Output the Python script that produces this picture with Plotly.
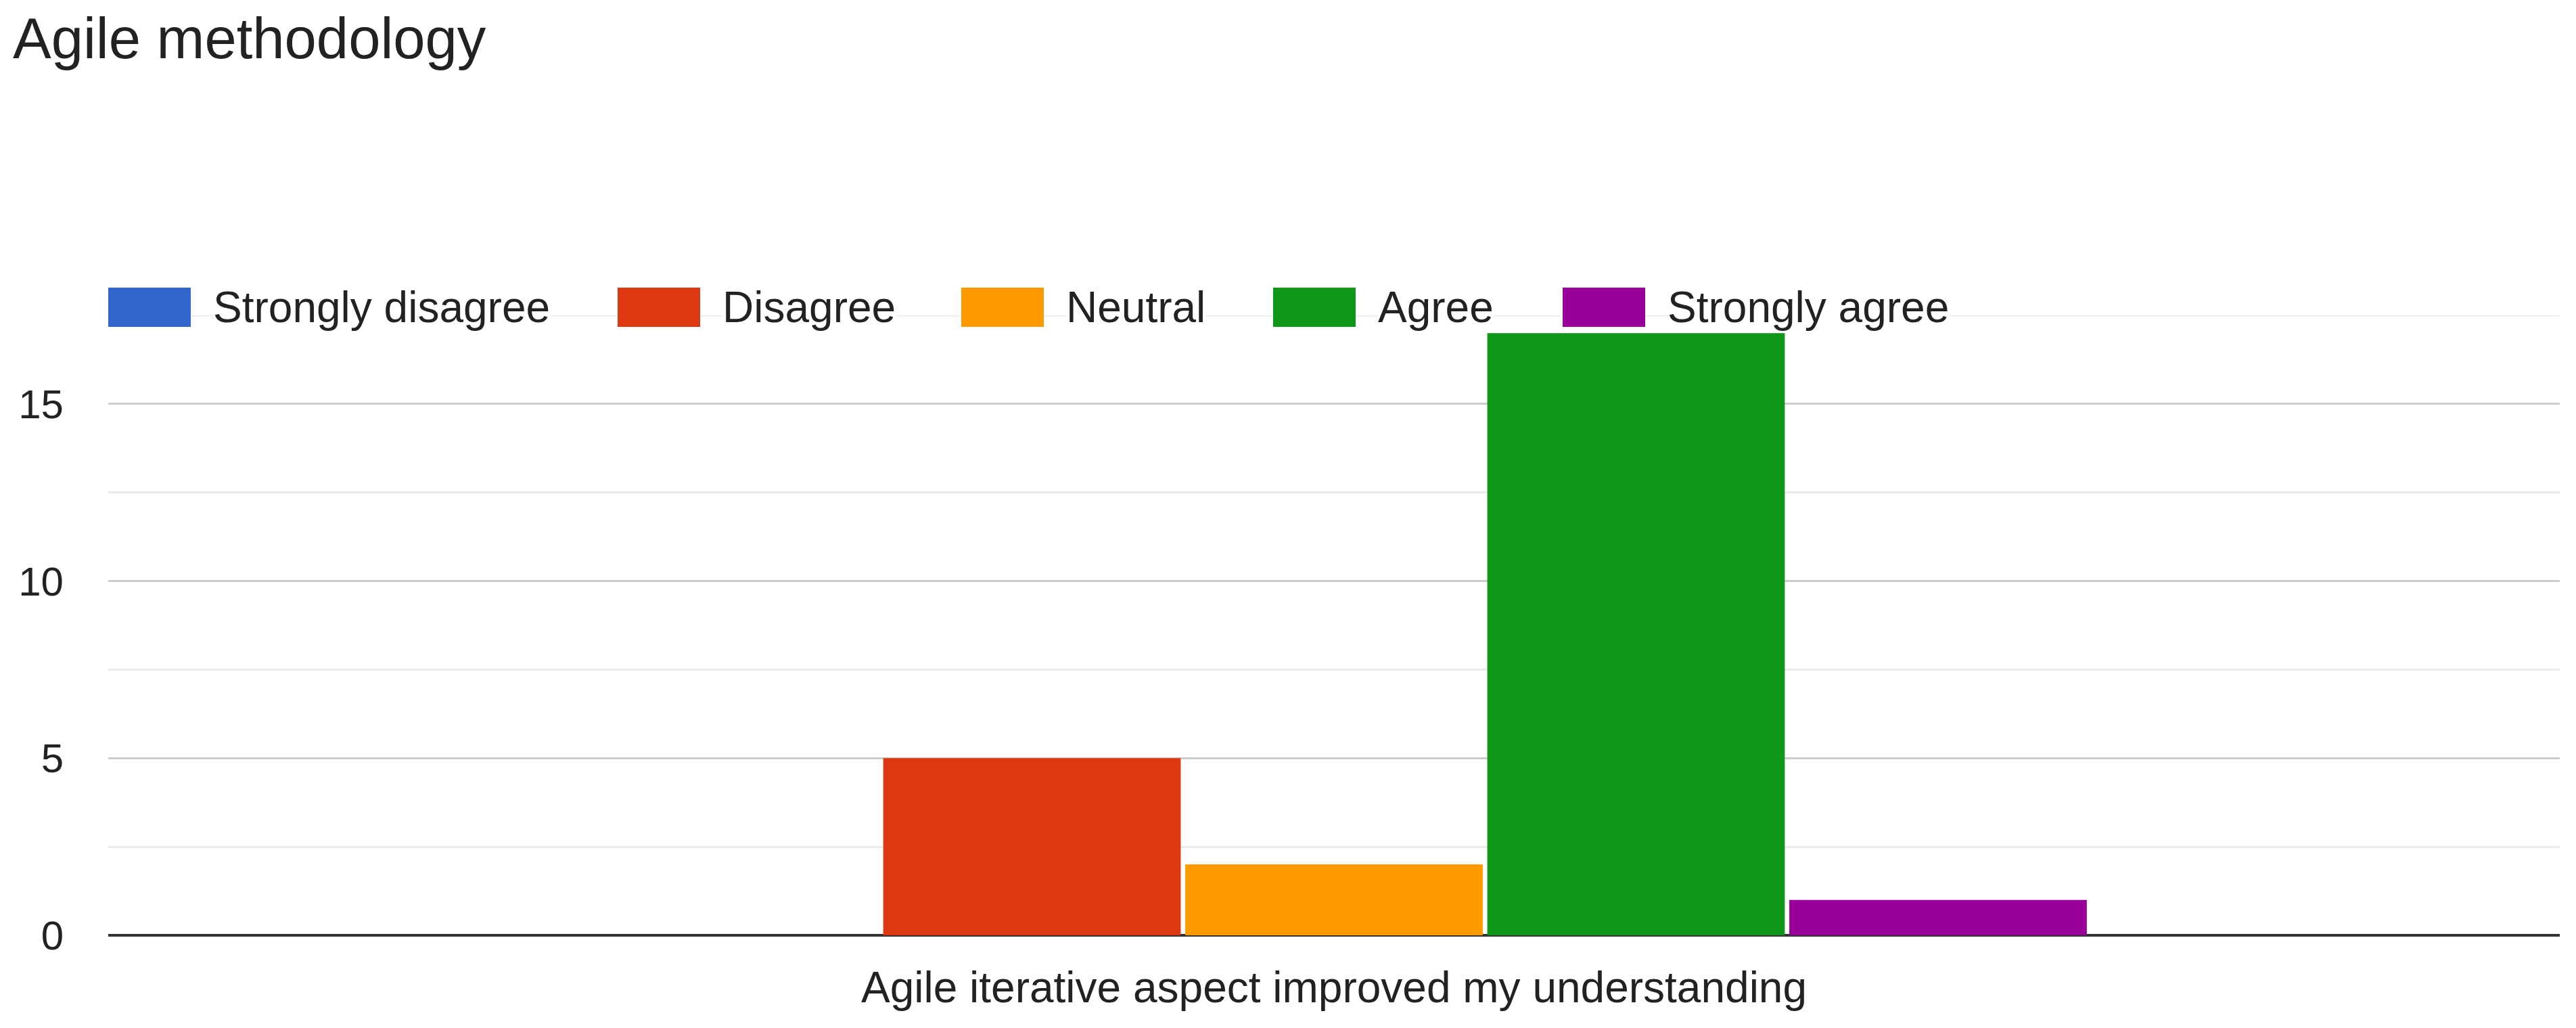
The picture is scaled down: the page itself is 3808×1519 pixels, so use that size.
import plotly.graph_objects as go

# ---- data ----
title_text = "Agile methodology"
category = ["Agile iterative aspect improved my understanding"]
series_names = ["Strongly disagree", "Disagree", "Neutral", "Agree", "Strongly agree"]
series_values = [0, 5, 2, 17, 1]
y_tick_values = [0, 5, 10, 15]
y_tick_labels = ["0", "5", "10", "15"]
y_max = 17.5

# ---- styles ----
colors = ["#3366cc", "#dc3912", "#ff9900", "#109618", "#990099"]
FONT = "Liberation Sans, Arial, sans-serif"
TXT = "#222222"
BODY = 8  # default browser body margin
W, H = 3808 - 2 * BODY, 1519 - 2 * BODY
ML = 160 - BODY
MT = 466 - BODY
MR = W - (3784 - BODY)
MB = H - (1382 - BODY)
PW = W - ML - MR
PH = H - MT - MB

fig = go.Figure()
for name, val, col in zip(series_names, series_values, colors):
    fig.add_trace(go.Bar(x=category, y=[val], name=name, marker=dict(color=col, line=dict(width=0)),
                         showlegend=False))

# custom legend (large swatches), positions in screen px
legend_swatch_left_px = [160, 913, 1421, 1882, 2310]
sw_w, sw_h, gap = 122, 58, 32
legend_cy = 454
shapes = [dict(type="line", xref="paper", yref="y", x0=0, x1=1, y0=y_max, y1=y_max,
               line=dict(color="#ebebeb", width=3), layer="below")]
annotations = []
def px_x(p):
    return (p - BODY - ML) / PW
def px_y(p):
    return (H - MB - (p - BODY)) / PH
for name, col, left in zip(series_names, colors, legend_swatch_left_px):
    shapes.append(dict(type="rect", xref="paper", yref="paper",
                       x0=px_x(left), x1=px_x(left + sw_w),
                       y0=px_y(legend_cy + sw_h / 2), y1=px_y(legend_cy - sw_h / 2),
                       fillcolor=col, line=dict(width=0), layer="above"))
    annotations.append(dict(text=name, xref="paper", yref="paper",
                            x=px_x(left + sw_w + gap), y=px_y(legend_cy),
                            xanchor="left", yanchor="middle", showarrow=False,
                            bgcolor="white", borderpad=0,
                            font=dict(family=FONT, size=64, color=TXT)))

fig.update_layout(
    width=W, height=H,
    margin=dict(l=ML, r=MR, t=MT, b=MB),
    paper_bgcolor="white", plot_bgcolor="white",
    title=dict(text=title_text, x=(19 - BODY) / W, xanchor="left", xref="container",
               y=1 - 18 / H, yanchor="top", yref="container",
               font=dict(family=FONT, size=85, color=TXT)),
    barmode="group", bargap=0.384, bargroupgap=0.015,
    shapes=shapes, annotations=annotations,
    font=dict(family=FONT, color=TXT),
)
fig.update_xaxes(showgrid=False, showline=False, zeroline=False, ticks="",
                 tickfont=dict(family=FONT, size=64, color=TXT), ticklabelstandoff=34)
fig.update_yaxes(range=[0, y_max], tickvals=y_tick_values, ticktext=y_tick_labels,
                 showgrid=True, gridcolor="#cccccc", gridwidth=3,
                 zeroline=True, zerolinecolor="#333333", zerolinewidth=4,
                 showline=False, ticks="",
                 minor=dict(dtick=2.5, tick0=0, showgrid=True, gridcolor="#ebebeb", gridwidth=3, ticks=""),
                 tickfont=dict(family=FONT, size=60, color=TXT), ticklabelstandoff=65)

fig.write_html("out.html")
